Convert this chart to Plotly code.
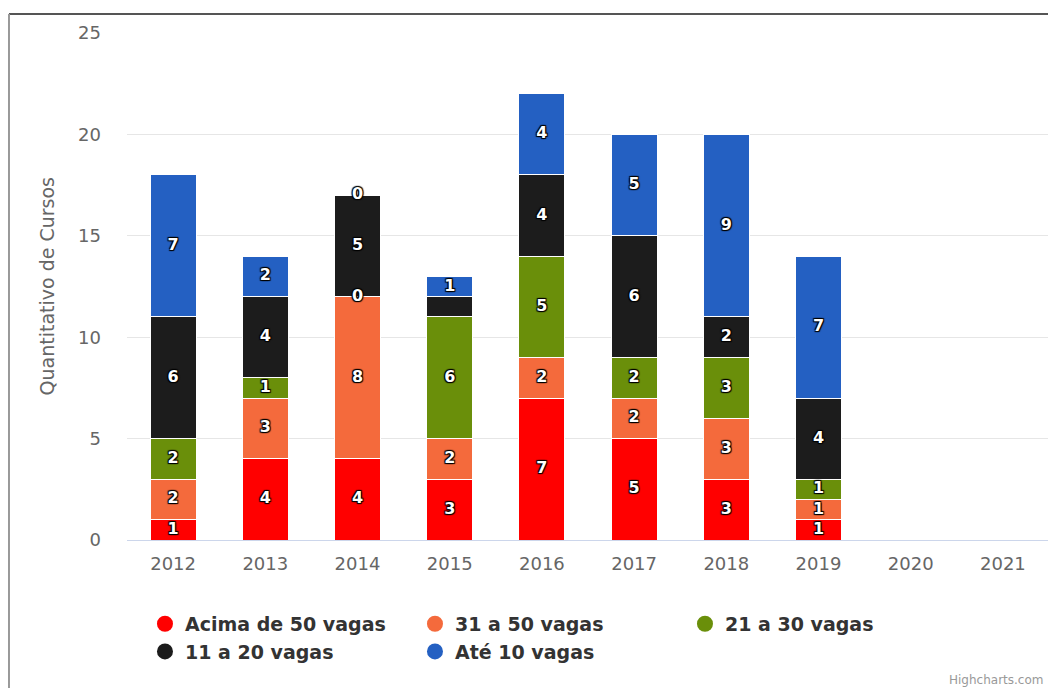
import plotly.graph_objects as go
import numpy as np

years = ["2012", "2013", "2014", "2015", "2016", "2017", "2018", "2019", "2020", "2021"]
series_names = ["Acima de 50 vagas", "31 a 50 vagas", "21 a 30 vagas", "11 a 20 vagas", "Até 10 vagas"]
acima_50 = [1, 4, 4, 3, 7, 5, 3, 1, None, None]
de_31_50 = [2, 3, 8, 2, 2, 2, 3, 1, None, None]
de_21_30 = [2, 1, 0, 6, 5, 2, 3, 1, None, None]
de_11_20 = [6, 4, 5, 1, 4, 6, 2, 4, None, None]
ate_10 = [7, 2, 0, 1, 4, 5, 9, 7, None, None]
# labels hidden by overlap in the original (series index, year)
hidden_labels = [(3, "2015")]

colors = ["#ff0000", "#f46a3c", "#6a8f0a", "#1c1c1c", "#2460c2"]
series = [acima_50, de_31_50, de_21_30, de_11_20, ate_10]

fig = go.Figure()
base = np.zeros(len(years))
for i, (name, vals, col) in enumerate(zip(series_names, series, colors)):
    v = np.array([np.nan if x is None else x for x in vals], dtype=float)
    fig.add_trace(go.Bar(
        x=years, y=v, name=name, marker=dict(color=col, line=dict(color="#ffffff", width=1)),
        showlegend=False, width=0.5, hoverinfo="skip"))
    mid = base + v / 2
    txt = []
    for j, x in enumerate(vals):
        if x is None or (i, years[j]) in hidden_labels:
            txt.append("")
        else:
            txt.append(str(x))
    fig.add_trace(go.Scatter(
        x=years, y=mid, mode="text", text=txt, showlegend=False, hoverinfo="skip",
        textfont=dict(family="DejaVu Sans", size=16, color="#ffffff", weight="bold",
                      shadow="1px 1px 1px #000, -1px -1px 1px #000, 1px -1px 1px #000, -1px 1px 1px #000")))
    base = base + np.nan_to_num(v)

for name, col in zip(series_names, colors):
    fig.add_trace(go.Scatter(x=[None], y=[None], mode="markers", name=name,
                             marker=dict(color=col, size=18, symbol="circle")))

fig.update_layout(
    width=1048, height=680,
    margin=dict(l=119, r=7, t=25, b=148),
    paper_bgcolor="#ffffff", plot_bgcolor="#ffffff",
    barmode="stack", bargap=0.5,
    font=dict(family="DejaVu Sans", color="#666666"),
    showlegend=True,
    legend=dict(orientation="h", x=0.0195, xanchor="left", y=-0.128, yanchor="top",
                traceorder="normal",
                font=dict(family="DejaVu Sans", size=19, color="#333333", weight="bold"),
                entrywidth=225, entrywidthmode="pixels", itemsizing="trace", tracegroupgap=0),
    xaxis=dict(type="category", categoryorder="array", categoryarray=years, automargin=False,
               tickfont=dict(size=18, color="#666666"), showline=True, linecolor="#ccd6eb",
               linewidth=1, showgrid=False, ticks="", fixedrange=True, ticklabelstandoff=7),
    yaxis=dict(range=[0, 25], tickvals=[0, 5, 10, 15, 20, 25], showgrid=True, gridcolor="#e6e6e6",
               automargin=False,
               tickfont=dict(size=18, color="#666666"), zeroline=False, ticks="", ticklabelstandoff=25),
    shapes=[
        dict(type="line", xref="paper", yref="paper", x0=-0.128, x1=1.01, y0=1.0375, y1=1.0375,
             line=dict(color="#555555", width=2)),
        dict(type="line", xref="paper", yref="paper", x0=-0.128, x1=-0.128, y0=1.0375, y1=-0.3,
             line=dict(color="#999999", width=2)),
    ],
    annotations=[
        dict(text="Quantitativo de Cursos", xref="paper", yref="paper", x=-0.0868, y=0.5,
             xanchor="center", yanchor="middle", textangle=-90, showarrow=False,
             font=dict(family="DejaVu Sans", size=19, color="#666666")),
        dict(text="Highcharts.com", xref="paper", yref="paper", x=0.9957, y=-0.276,
             xanchor="right", yanchor="middle", showarrow=False,
             font=dict(size=12, color="#999999")),
    ],
)

fig.write_html("out.html")
